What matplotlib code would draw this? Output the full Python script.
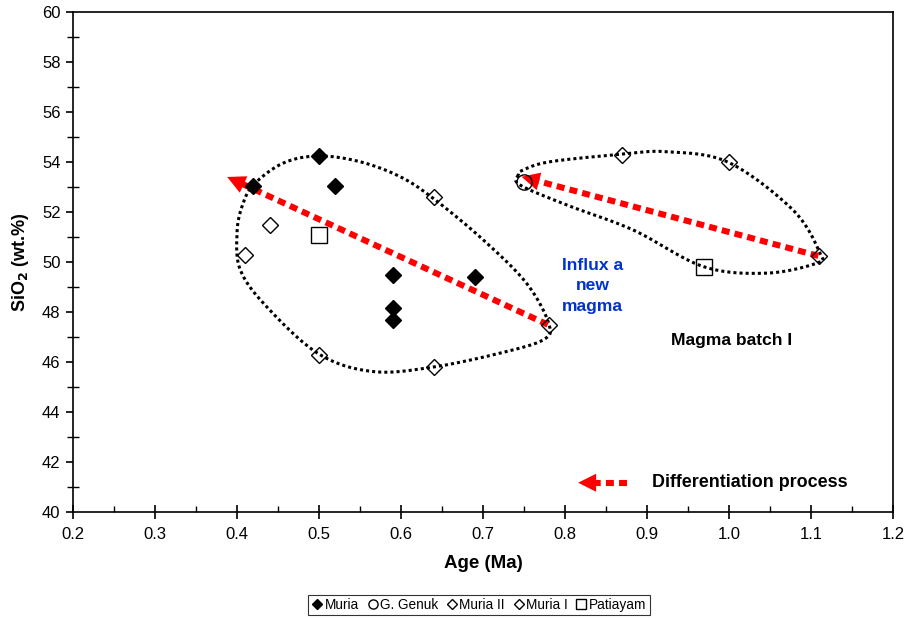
import numpy as np
import matplotlib
matplotlib.use("Agg")
import matplotlib.pyplot as plt

plt.rcParams['font.family'] = ['Liberation Sans', 'DejaVu Sans']

# sample data (Age in Ma, SiO2 in wt.%)
muria_x = [0.42, 0.50, 0.52, 0.59, 0.59, 0.59, 0.69]
muria_y = [53.05, 54.25, 53.05, 49.5, 48.15, 47.7, 49.4]
genuk_x = [0.75]
genuk_y = [53.2]
muria2_x = [0.41, 0.44, 0.50, 0.64, 0.64, 0.78]
muria2_y = [50.3, 51.5, 46.3, 45.8, 52.6, 47.5]
muria1_x = [0.87, 1.00, 1.11]
muria1_y = [54.3, 54.0, 50.25]
patiayam_x = [0.50, 0.97]
patiayam_y = [51.1, 49.8]

# outlines of the two groups (hand drawn loops)
loop_left_x = [0.420, 0.456, 0.499, 0.550, 0.599, 0.639, 0.700, 0.753, 0.780, 0.774,
               0.721, 0.639, 0.566, 0.500, 0.436, 0.404, 0.400, 0.406]
loop_left_y = [53.09, 53.96, 54.25, 54.02, 53.42, 52.56, 50.90, 49.16, 47.56, 46.90,
               46.36, 45.80, 45.62, 46.32, 48.22, 49.69, 51.16, 52.22]
loop_right_x = [0.743, 0.745, 0.802, 0.883, 0.969, 1.046, 1.107, 1.111, 1.078, 0.999,
                0.924, 0.869, 0.782, 0.749]
loop_right_y = [53.49, 53.09, 52.29, 51.29, 49.82, 49.56, 49.96, 50.36, 52.09, 54.00,
                54.42, 54.32, 54.02, 53.69]

# differentiation arrows: (tail, tip)
arrow_left = ((0.779, 47.5), (0.388, 53.41))
arrow_right = ((1.109, 50.25), (0.747, 53.42))
arrow_key = ((0.876, 41.17), (0.816, 41.17))


def closed_curve(xs, ys, n=30):
    # closed Catmull-Rom spline through the outline points
    P = np.column_stack([xs, ys])
    N = len(P)
    t = np.linspace(0, 1, n, endpoint=False)[:, None]
    segs = []
    for i in range(N):
        p0, p1, p2, p3 = P[i - 1], P[i], P[(i + 1) % N], P[(i + 2) % N]
        seg = 0.5 * (2 * p1 + (-p0 + p2) * t + (2 * p0 - 5 * p1 + 4 * p2 - p3) * t ** 2
                     + (-p0 + 3 * p1 - 3 * p2 + p3) * t ** 3)
        segs.append(seg)
    segs.append(P[:1])
    c = np.vstack(segs)
    return c[:, 0], c[:, 1]


def red_arrow(ax, tail, tip, head_frac):
    (x0, y0), (x1, y1) = tail, tip
    xe = x1 + head_frac * (x0 - x1)
    ye = y1 + head_frac * (y0 - y1)
    ax.plot([x0, xe], [y0, ye], color='red', lw=4.4, linestyle=(0, (1.3, 0.85)),
            dash_capstyle='butt', solid_capstyle='butt', zorder=3)
    ax.annotate('', xy=tip, xytext=tail,
                arrowprops=dict(arrowstyle='-|>,head_length=1.3,head_width=0.65',
                                fc='red', ec='red', lw=0, shrinkA=0, shrinkB=0),
                zorder=4)


fig = plt.figure(figsize=(9.05, 6.19), dpi=100)
ax = fig.add_axes([0.0807, 0.1729, 0.9060, 0.8072])

for lx, ly in [(loop_left_x, loop_left_y), (loop_right_x, loop_right_y)]:
    cx, cy = closed_curve(lx, ly)
    ax.plot(cx, cy, color='black', lw=2.2, linestyle=(0, (1, 1)), zorder=2)

red_arrow(ax, arrow_left[0], arrow_left[1], 0.04)
red_arrow(ax, arrow_right[0], arrow_right[1], 0.05)
red_arrow(ax, arrow_key[0], arrow_key[1], 0.30)

ax.plot(muria_x, muria_y, 'D', color='black', ms=8.6, mec='black', label='Muria', zorder=5)
ax.plot(genuk_x, genuk_y, 'o', mfc='none', mec='black', ms=11, mew=1.0,
        label='G. Genuk', zorder=5)
ax.plot(muria2_x, muria2_y, 'D', mfc='none', mec='black', ms=8.2, mew=1.0,
        label='Muria II', zorder=5)
ax.plot(muria1_x, muria1_y, 'D', mfc='none', mec='black', ms=8.2, mew=1.0,
        label='Muria I', zorder=5)
ax.plot(patiayam_x, patiayam_y, 's', mfc='none', mec='black', ms=12, mew=1.0,
        label='Patiayam', zorder=5)

ax.text(0.834, 49.05, 'Influx a\nnew\nmagma', color='#0033cc', fontsize=12.6,
        fontweight='bold', ha='center', va='center', linespacing=1.45)
ax.text(1.003, 46.86, 'Magma batch I', fontsize=12.6, fontweight='bold',
        ha='center', va='center')
ax.text(0.906, 41.17, 'Differentiation process', fontsize=12.9, fontweight='bold',
        ha='left', va='center')

ax.set_xlim(0.2, 1.2)
ax.set_ylim(40, 60)
ax.set_xticks(np.arange(0.2, 1.21, 0.1))
ax.set_xticklabels([f'{v:.1f}' for v in np.arange(0.2, 1.21, 0.1)])
ax.set_xticks(np.arange(0.25, 1.2, 0.1), minor=True)
ax.set_yticks(np.arange(40, 61, 2))
ax.set_yticks(np.arange(41, 60, 2), minor=True)
ax.tick_params(axis='x', which='major', direction='inout', length=10, width=1.2,
               labelsize=12, pad=6)
ax.tick_params(axis='x', which='minor', direction='in', length=4, width=1.0)
ax.tick_params(axis='y', which='major', direction='out', length=5, width=1.2,
               labelsize=12, pad=4)
ax.tick_params(axis='y', which='minor', direction='inout', length=8, width=1.0)
for s in ax.spines.values():
    s.set_linewidth(1.2)

ax.set_xlabel('Age (Ma)', fontsize=13.5, fontweight='bold', labelpad=9)
ax.set_ylabel('SiO$_\\mathbf{2}$ (wt.%)', fontsize=13, fontweight='bold', labelpad=8)

leg = fig.legend(loc='center', bbox_to_anchor=(0.5293, 0.0226), ncol=5, fontsize=9.8,
                 frameon=True, fancybox=False, edgecolor='black', borderpad=0.25,
                 handlelength=0.8, handletextpad=0.15, columnspacing=0.6,
                 borderaxespad=0, markerscale=0.6)
leg.get_frame().set_linewidth(0.8)

fig.savefig('out.png', dpi=100)
